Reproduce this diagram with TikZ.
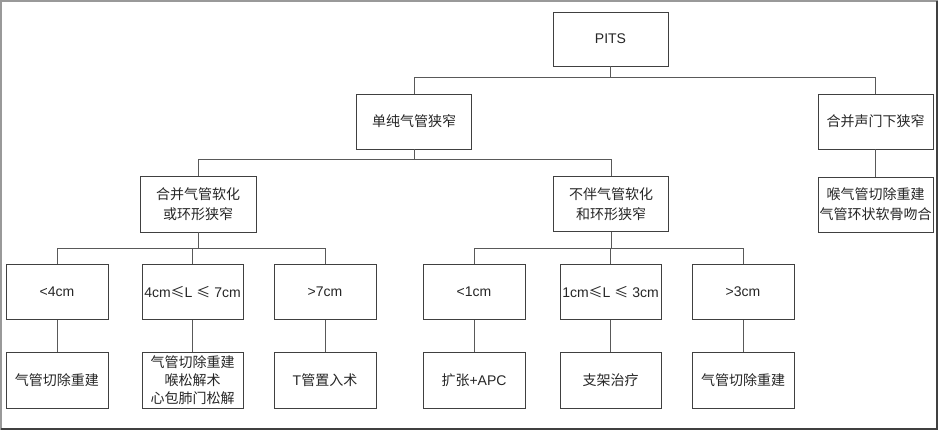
\documentclass[tikz,border=0pt]{standalone}
\usepackage{fontspec}
\setmainfont{Liberation Sans}
\newfontfamily\cjk{Noto Sans CJK SC}
\begin{document}
\begin{tikzpicture}[x=1pt,y=-1pt,
  box/.style={draw=black!75, line width=0.9pt, rectangle, inner sep=0pt, align=center,
    text=black!85, font=\fontsize{14}{20}\selectfont},
  zh/.style={box, font=\cjk\fontsize{14}{20}\selectfont},
  zhthree/.style={box, font=\cjk\fontsize{14}{18}\selectfont},
  big/.style={minimum width=115pt, minimum height=55pt},
  small/.style={minimum width=102pt, minimum height=55pt},
  conn/.style={draw=black!65, line width=0.9pt}]
\useasboundingbox (0,0) rectangle (938,430);
\fill[white] (0,0) rectangle (938,430);
% frame
\draw[black!40, line width=2pt] (1,430) -- (1,1) -- (938,1);
\draw[black!75, line width=1.5pt] (937,1) -- (937,429) -- (1,429);
% level 0 / 1
\node[box, big, minimum height=54pt] (pits) at (610.5,39) {PITS};
\node[zh, big] (dan) at (414,121.5) {单纯气管狭窄};
\node[zh, big] (hb) at (875.5,121.5) {合并声门下狭窄};
\node[zh, big] (hq) at (875.5,204.5) {喉气管切除重建\\气管环状软骨吻合};
% level 2
\node[zh, big, minimum width=116pt, minimum height=56pt] (hr) at (198,204) {合并气管软化\\或环形狭窄};
\node[zh, big] (bb) at (611,204) {不伴气管软化\\和环形狭窄};
% level 3
\node[box, small] (a1) at (57,292) {<4cm};
\node[box, small, minimum width=101pt] (a2) at (192.5,292) {4cm{\cjk ≤}L {\cjk ≤} 7cm};
\node[box, small] (a3) at (325,292) {>7cm};
\node[box, small] (b1) at (474,292) {<1cm};
\node[box, small, minimum width=101pt] (b2) at (610.5,292) {1cm{\cjk ≤}L {\cjk ≤} 3cm};
\node[box, small] (b3) at (743,292) {>3cm};
% level 4
\node[zh, small, minimum height=56pt] (c1) at (57,380) {气管切除重建};
\node[zhthree, small, minimum width=101pt, minimum height=56pt] (c2) at (192.5,380) {气管切除重建\\喉松解术\\心包肺门松解};
\node[zh, small, minimum height=56pt] (c3) at (325,380) {{\rmfamily T}管置入术};
\node[zh, small, minimum height=56pt] (d1) at (474,380) {扩张{\rmfamily +APC}};
\node[zh, small, minimum width=101pt, minimum height=56pt] (d2) at (610.5,380) {支架治疗};
\node[zh, small, minimum height=56pt] (d3) at (743,380) {气管切除重建};
% connectors
\coordinate (bus1) at (610.5,77.5);
\coordinate (bus2) at (414,159.5);
\coordinate (bus3) at (198,248.5);
\coordinate (bus4) at (611,248.5);
\draw[conn] (pits.south) -- (bus1);
\draw[conn] (dan.north) |- (bus1) -| (hb.north);
\draw[conn] (dan.south) -- (bus2);
\draw[conn] (hr.north) |- (bus2) -| (bb.north);
\draw[conn] (hb.south) -- (hq.north);
\draw[conn] (hr.south) -- (bus3);
\draw[conn] (a1.north) |- (bus3) -| (a3.north);
\draw[conn] (a2.north) -- (a2.north |- bus3);
\draw[conn] (bb.south) -- (bus4);
\draw[conn] (b1.north) |- (bus4) -| (b3.north);
\draw[conn] (b2.north) -- (b2.north |- bus4);
\draw[conn] (a1.south) -- (c1.north);
\draw[conn] (a2.south) -- (c2.north);
\draw[conn] (a3.south) -- (c3.north);
\draw[conn] (b1.south) -- (d1.north);
\draw[conn] (b2.south) -- (d2.north);
\draw[conn] (b3.south) -- (d3.north);
\end{tikzpicture}
\end{document}
